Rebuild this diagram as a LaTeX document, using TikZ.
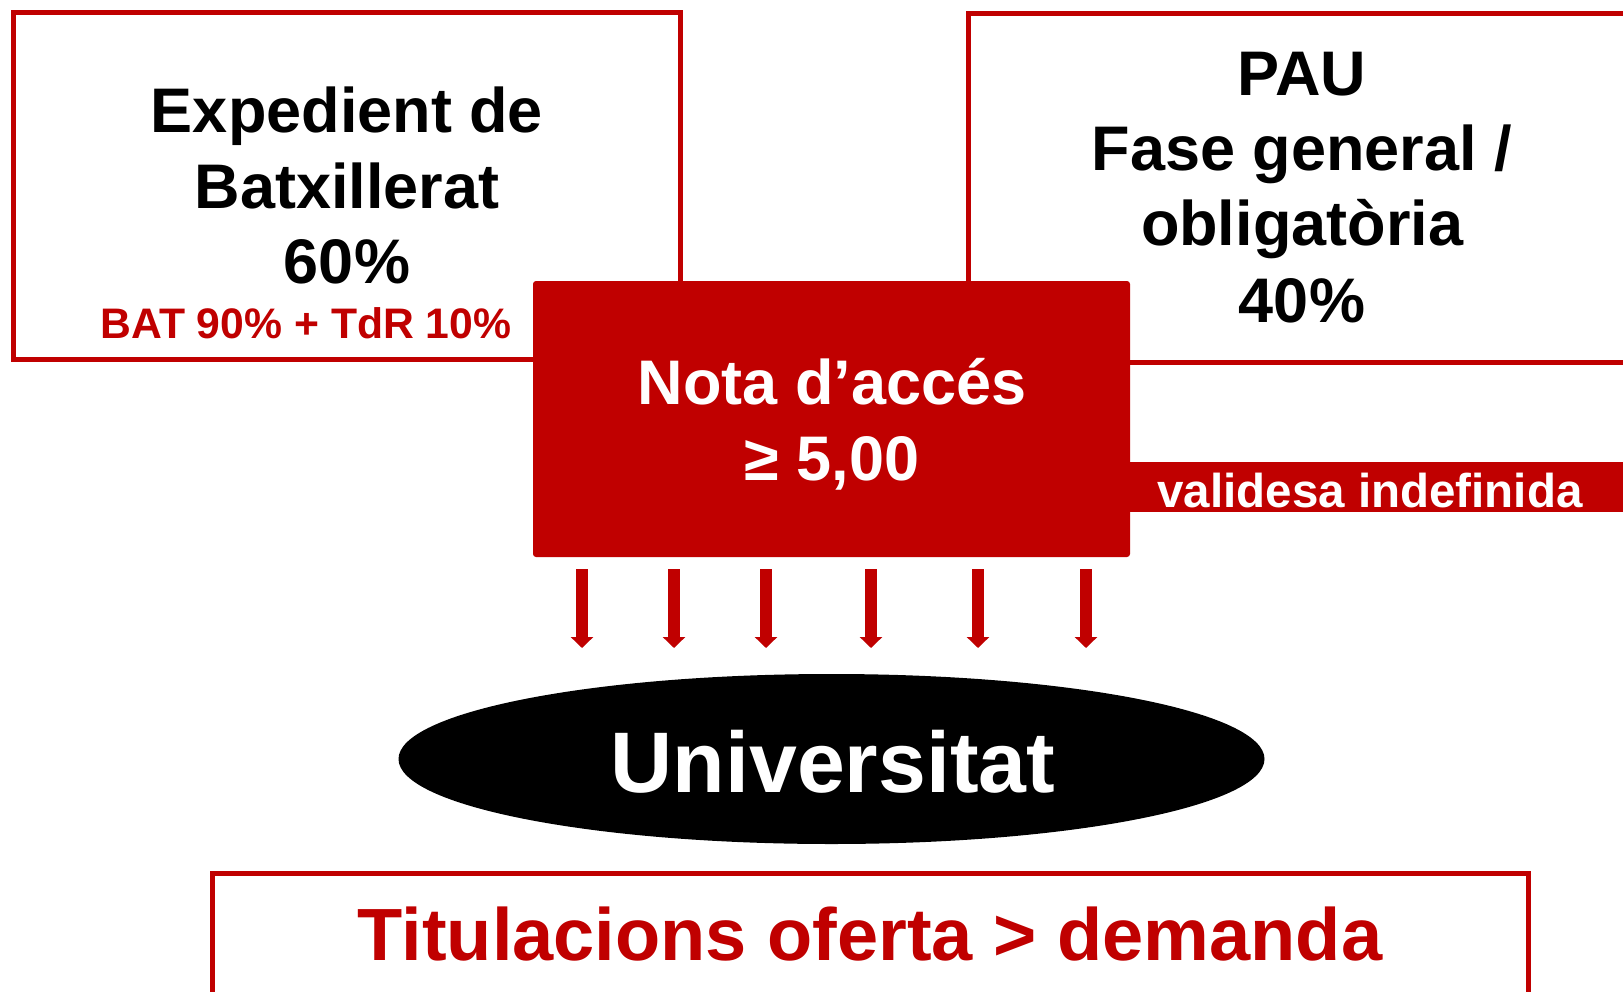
\documentclass[tikz,border=0pt]{standalone}
\usepackage{fontspec}
\setmainfont{Liberation Sans}
\usetikzlibrary{shapes.geometric,arrows.meta}
\definecolor{dred}{HTML}{C00000}
\begin{document}
\begin{tikzpicture}[x=1pt,y=-1pt,
  outbox/.style={draw=dred,line width=5pt,fill=white,inner sep=0pt,outer sep=0pt,anchor=north west},
  redbox/.style={fill=dred,inner sep=0pt,outer sep=0pt,anchor=north west},
  bigtxt/.style={font=\bfseries\fontsize{63}{75.5}\selectfont,anchor=base,inner sep=0pt},
  subtxt/.style={font=\bfseries\fontsize{42.7}{50}\selectfont,anchor=base,inner sep=0pt,text=dred},
  valtxt/.style={font=\bfseries\fontsize{47.5}{55}\selectfont,anchor=base,inner sep=0pt,text=white},
  unitxt/.style={font=\bfseries\fontsize{86}{100}\selectfont,anchor=base,inner sep=0pt,text=white},
  tittxt/.style={font=\bfseries\fontsize{74}{85}\selectfont,anchor=base,inner sep=0pt,text=dred},
  arr/.style={draw=dred,line width=12pt,-{Triangle[width=22pt,length=11pt]}}]
\useasboundingbox (0,0) rectangle (1623,991);
\clip (0,0) rectangle (1623,991);
\fill[white] (0,0) rectangle (1623,991);

% outer boxes
\node[outbox,minimum width=667pt,minimum height=347.5pt] (exp) at (13,12) {};
\node[outbox,minimum width=672pt,minimum height=348.5pt] (pau) at (968,13.5) {};
\node[outbox,minimum width=1315.5pt,minimum height=200pt] (tit) at (212.5,873.5) {};

% red boxes
\node[redbox,minimum width=520pt,minimum height=50pt] (val) at (1128,462) {};
\node[redbox,rounded corners=3pt,minimum width=597pt,minimum height=276pt] (nota) at (533,281) {};

% ellipse
\node[ellipse,fill=black,inner sep=0pt,outer sep=0pt,minimum width=866pt,minimum height=170pt] (uni) at (831.5,759) {};

% texts
\node[bigtxt] (e1) at (347,132.7) {Expedient de};
\node[bigtxt] (e2) at (347,208) {Batxillerat};
\node[bigtxt] (e3) at (347,283.5) {60\%};
\node[subtxt] (e4) at (306,338) {BAT 90\% + TdR 10\%};

\node[bigtxt] (p1) at (1302,95) {PAU};
\node[bigtxt] (p2) at (1302,170) {Fase general /};
\node[bigtxt] (p3) at (1302,245.5) {obligatòria};
\node[bigtxt] (p4) at (1302,322) {40\%};

\node[bigtxt,text=white] (n1) at (832,404) {Nota d’accés};
\node[bigtxt,text=white] (n2) at (832,480) {≥ 5,00};

\node[valtxt] (v1) at (1370,507) {validesa indefinida};
\node[unitxt] (u1) at (833,792) {Universitat};
\node[tittxt] (t1) at (870,960) {Titulacions oferta > demanda};

% arrows
\foreach \x in {582,674,766,871,978,1086}{
  \draw[arr,shorten <=12pt,shorten >=26pt] (nota.south -| \x,0) -- (uni.north -| \x,0);
}
\end{tikzpicture}
\end{document}
